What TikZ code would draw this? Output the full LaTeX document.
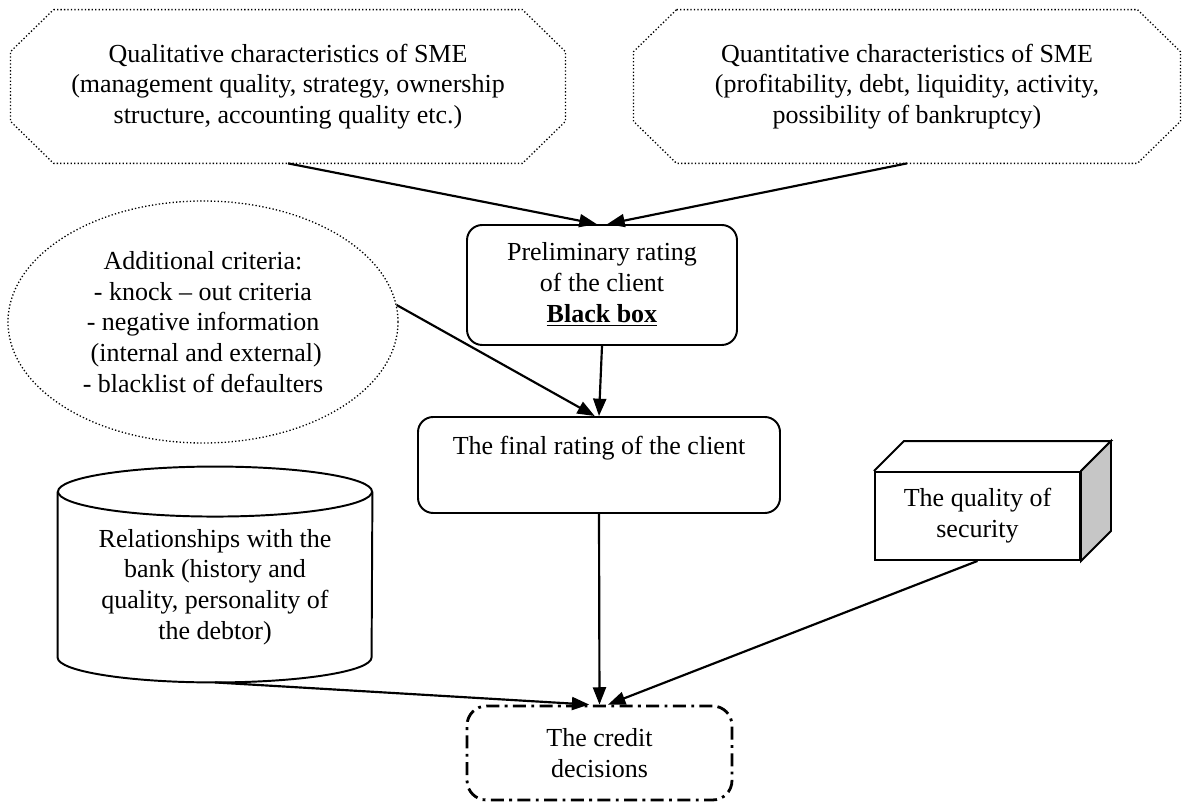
\documentclass[tikz,border=0pt]{standalone}
\usepackage{fontspec}
\setmainfont{Liberation Serif}
\usetikzlibrary{shapes.geometric, arrows.meta, calc}

\tikzset{
  every node/.style={font=\fontsize{12}{14.2}\selectfont, align=center},
  octbox/.style={inner sep=0pt, minimum height=2.48cm},
  octline/.style={densely dotted, line width=0.6pt},
  roundbox/.style={draw, rounded corners=7pt, line width=0.9pt, inner sep=0pt},
  link/.style={-{Triangle[length=8pt, width=6pt]}, line width=1pt},
}

\begin{document}
\begin{tikzpicture}[x=0.01622cm, y=-0.01622cm]
            \useasboundingbox (0,0) rectangle (1185,803);

            %Nodes
            \node[octbox, minimum width=8.986cm] at (288,86.5) (qual) {Qualitative characteristics of SME\\(management quality, strategy, ownership\\structure, accounting quality etc.)};
            \node[octbox, minimum width=8.856cm] at (907,86.5) (quant) {Quantitative characteristics of SME\\(profitability, debt, liquidity, activity,\\possibility of bankruptcy)};
            \node[roundbox, minimum width=4.379cm, minimum height=1.946cm] at (602,285) (prelim) {Preliminary rating\\of the client\\\textbf{\underline{Black box}}};
            \node[ellipse, draw, octline, inner sep=0pt, minimum width=6.326cm, minimum height=3.925cm] at (203,322) (addcrit) {Additional criteria:\\- knock -- out criteria\\- negative information\\\ (internal and external)\\- blacklist of defaulters};
            \node[roundbox, minimum width=5.872cm, minimum height=1.557cm] at (599,465) (final) {The final rating of the client\\\strut};
            \node[inner sep=0pt, minimum width=5.093cm, minimum height=3.082cm] at (215,587) (bank) {Relationships with the\\bank (history and\\quality, personality of\\the debtor)};
            \node[draw, line width=0.9pt, inner sep=0pt, minimum width=3.325cm, minimum height=1.427cm] at (977.5,516) (secur) {The quality of\\security};
            \node[draw, rounded corners=9pt, line width=1.3pt, dash pattern=on 6pt off 2.5pt on 1.3pt off 2.5pt, inner sep=0pt, minimum width=4.298cm, minimum height=1.525cm] at (599.5,753) (decis) {The credit\\decisions};

            %Outlines
            \foreach \n in {qual, quant}
              \draw[octline] ($(\n.north west)+(43,0)$) -- ($(\n.north east)+(-43,0)$)
                -- ($(\n.north east)+(0,42)$) -- ($(\n.south east)+(0,-42)$)
                -- ($(\n.south east)+(-43,0)$) -- ($(\n.south west)+(43,0)$)
                -- ($(\n.south west)+(0,-42)$) -- ($(\n.north west)+(0,42)$) -- cycle;
            \draw[line width=0.9pt] (bank.north) ellipse [x radius=157, y radius=25];
            \draw[line width=0.9pt] (bank.north west) -- ($(bank.south west)+(0,-25)$)
              arc[start angle=180, end angle=0, x radius=157, y radius=25] -- (bank.north east);
            \draw[line width=0.9pt] (secur.north west) -- ++(30,-30) -- ($(secur.north east)+(30,-30)$) -- (secur.north east);
            \draw[line width=0.9pt, fill=gray!45] (secur.north east) -- ++(30,-30) -- ($(secur.south east)+(30,-30)$) -- (secur.south east) -- cycle;

            %Lines
            \draw[link] (qual.south) -- (prelim.95);
            \draw[link] (quant.south) -- (prelim.85);
            \draw[link] (prelim.south) -- (final.north);
            \draw[link] (addcrit.5) -- (final.95);
            \draw[link] (final.south) -- (decis.north);
            \draw[link] (bank.south) -- (decis.102);
            \draw[link] (secur.south) -- (decis.80);
\end{tikzpicture}
\end{document}
